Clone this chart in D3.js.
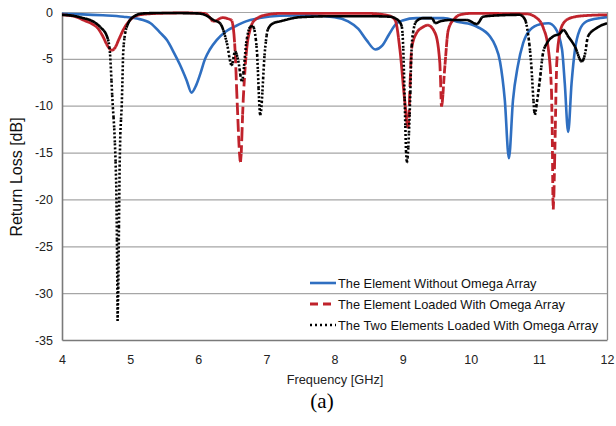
<!DOCTYPE html>
<html>
<head>
<meta charset="utf-8">
<script src="https://cdn.jsdelivr.net/npm/d3@7"></script>
<style>
  html, body { margin: 0; padding: 0; background: #fff; }
  svg { display: block; }
</style>
</head>
<body>
<svg id="chart" width="616" height="426"></svg>
<script>
// ---------------- data ----------------
const xTicks = [4, 5, 6, 7, 8, 9, 10, 11, 12];
const yTicks = [0, -5, -10, -15, -20, -25, -30, -35];

const seriesNames = [
  "The Element Without Omega Array",
  "The Element Loaded With Omega Array",
  "The Two Elements Loaded With Omega Array"
];

const freqBlue = [4.0, 4.3, 4.6, 4.9, 5.1, 5.3, 5.44, 5.54, 5.64, 5.73, 5.83, 5.9, 5.97, 6.03, 6.1, 6.17, 6.27, 6.4, 6.55, 6.7, 6.9, 7.2, 7.6, 8.0, 8.2, 8.35, 8.47, 8.6, 8.7, 8.8, 8.9, 9.0, 9.2, 9.6, 9.84, 10.0, 10.1, 10.28, 10.36, 10.43, 10.5, 10.56, 10.62, 10.69, 10.77, 10.87, 11.02, 11.14, 11.24, 11.34, 11.38, 11.43, 11.48, 11.53, 11.6, 11.7, 11.9, 12.0];
const lossBlue = [-0.2, -0.25, -0.35, -0.5, -0.7, -1.2, -2.2, -3.0, -4.3, -5.6, -7.3, -8.6, -7.8, -6.6, -5.0, -4.0, -3.0, -2.1, -1.5, -1.0, -0.65, -0.4, -0.35, -0.55, -1.0, -1.8, -3.0, -4.0, -3.6, -2.4, -1.3, -0.9, -0.65, -0.65, -1.1, -1.3, -1.6, -2.6, -3.6, -5.3, -9.4, -15.6, -9.4, -5.8, -3.3, -1.9, -1.3, -1.2, -1.7, -4.0, -7.6, -12.8, -7.6, -4.0, -1.9, -1.0, -0.65, -0.55];

const freqRed = [4.0, 4.2, 4.31, 4.45, 4.51, 4.6, 4.66, 4.73, 4.78, 4.83, 4.9, 5.0, 5.14, 5.4, 5.8, 6.1, 6.17, 6.22, 6.27, 6.35, 6.43, 6.49, 6.54, 6.57, 6.62, 6.66, 6.71, 6.76, 6.83, 7.0, 7.2, 8.5, 8.8, 8.89, 8.96, 9.03, 9.08, 9.11, 9.13, 9.2, 9.3, 9.37, 9.48, 9.55, 9.57, 9.62, 9.67, 9.77, 9.84, 10.0, 10.82, 10.97, 11.06, 11.14, 11.19, 11.21, 11.24, 11.26, 11.3, 11.36, 11.46, 11.65, 12.0];
const lossRed = [-0.3, -0.5, -0.85, -1.3, -1.6, -2.6, -3.5, -4.1, -3.8, -3.0, -1.9, -0.85, -0.3, -0.15, -0.1, -0.15, -0.6, -1.0, -0.9, -0.6, -0.7, -0.9, -4.0, -9.4, -16.0, -9.4, -4.0, -1.9, -0.85, -0.3, -0.15, -0.15, -0.4, -0.85, -4.0, -9.4, -12.4, -7.6, -4.0, -2.3, -1.6, -1.4, -2.3, -5.8, -10.1, -5.8, -1.9, -0.65, -0.3, -0.15, -0.2, -0.65, -1.6, -4.0, -9.4, -21.1, -12.9, -5.8, -2.6, -1.2, -0.65, -0.4, -0.3];

const freqBlack = [4.0, 4.2, 4.31, 4.41, 4.56, 4.66, 4.7, 4.74, 4.78, 4.8, 4.81, 4.815, 4.83, 4.84, 4.85, 4.88, 4.9, 4.95, 5.05, 5.19, 5.5, 6.0, 6.15, 6.22, 6.32, 6.42, 6.49, 6.54, 6.59, 6.64, 6.71, 6.76, 6.8, 6.86, 6.91, 6.98, 7.02, 7.1, 7.2, 7.5, 8.0, 8.5, 8.81, 8.93, 8.99, 9.01, 9.03, 9.06, 9.11, 9.13, 9.16, 9.2, 9.3, 9.43, 9.48, 9.55, 9.7, 9.94, 10.05, 10.09, 10.18, 10.43, 10.72, 10.8, 10.84, 10.89, 10.92, 10.94, 10.97, 11.02, 11.06, 11.12, 11.21, 11.31, 11.36, 11.43, 11.53, 11.63, 11.68, 11.72, 11.85, 12.0];
const lossBlack = [-0.3, -0.45, -0.65, -0.85, -1.6, -2.6, -4.0, -9.4, -14.7, -20.0, -27.2, -33.0, -27.2, -20.0, -14.7, -9.4, -4.0, -1.6, -0.5, -0.15, -0.1, -0.15, -0.5, -0.85, -1.2, -3.3, -5.7, -4.2, -5.3, -7.4, -3.0, -1.6, -1.5, -4.0, -11.0, -4.0, -1.9, -1.2, -1.0, -0.55, -0.45, -0.45, -0.5, -0.85, -1.6, -4.0, -9.4, -16.1, -9.4, -4.0, -1.9, -1.0, -0.65, -0.65, -1.2, -1.0, -0.85, -0.85, -1.2, -1.3, -0.5, -0.35, -0.3, -0.85, -2.3, -5.8, -9.4, -11.0, -9.7, -6.9, -4.4, -3.3, -2.6, -2.3, -1.9, -2.6, -3.7, -5.3, -4.4, -2.6, -1.7, -1.2];

const seriesFreq = [freqBlue, freqRed, freqBlack];
const seriesLoss = [lossBlue, lossRed, lossBlack];
const seriesColor = ["#2f6fc1", "#c0222b", "#000000"];
const seriesDash = [null, "8,4", "2,2"];
const seriesWidth = [2.6, 2.8, 2.6];

// ---------------- layout ----------------
const svg = d3.select("#chart");
const x = d3.scaleLinear().domain([4, 12]).range([62, 607]);
const y = d3.scaleLinear().domain([-35, 0]).range([340, 12]);

// gridlines
svg.append("g").selectAll("line").data(yTicks.filter(t => t !== -35)).join("line")
  .attr("x1", x(4)).attr("x2", x(12))
  .attr("y1", d => y(d) + 0.5).attr("y2", d => y(d) + 0.5)
  .attr("stroke", "#a6a6a6").attr("stroke-width", 1.2);

// right border
svg.append("line").attr("x1", x(12) + 0.5).attr("x2", x(12) + 0.5)
  .attr("y1", y(0)).attr("y2", y(-35))
  .attr("stroke", "#8c8c8c").attr("stroke-width", 1.3);

// axes
const xAxis = d3.axisBottom(x).tickValues(xTicks).tickSize(0).tickPadding(15).tickFormat(d3.format("d"));
const yAxis = d3.axisLeft(y).tickValues(yTicks).tickSize(0).tickPadding(9).tickFormat(d => d === 0 ? "0" : String(d));

const gx = svg.append("g").attr("transform", `translate(0,${y(-35)})`).call(xAxis);
const gy = svg.append("g").attr("transform", `translate(${x(4)},0)`).call(yAxis);
[gx, gy].forEach(g => {
  g.select(".domain").attr("stroke", "#7a7a7a").attr("stroke-width", 1.6);
  g.selectAll("text").attr("font-family", "Liberation Sans, Arial, sans-serif")
    .attr("font-size", 12.5).attr("fill", "#222");
});

// axis titles
svg.append("text").attr("x", 335).attr("y", 384).attr("text-anchor", "middle")
  .attr("font-family", "Liberation Sans, Arial, sans-serif").attr("font-size", 12.8)
  .attr("fill", "#222").text("Frequency [GHz]");
svg.append("text").attr("transform", "translate(22,177) rotate(-90)").attr("text-anchor", "middle")
  .attr("font-family", "Liberation Sans, Arial, sans-serif").attr("font-size", 16)
  .attr("fill", "#111").text("Return Loss [dB]");
svg.append("text").attr("x", 322).attr("y", 408).attr("text-anchor", "middle")
  .attr("font-family", "Liberation Serif, Times New Roman, serif").attr("font-size", 21)
  .attr("fill", "#000").text("(a)");

// ---------------- series (Excel-style dashes restarting at each segment) ----------------
const lineGen = d3.line().x(d => x(d[0])).y(d => y(d[1])).curve(d3.curveMonotoneX);

function segmentedPath(freqs, losses) {
  const pts = freqs.map((f, i) => [f, losses[i]]);
  const tmp = svg.append("path").attr("d", lineGen(pts)).attr("fill", "none");
  const node = tmp.node();
  const L = node.getTotalLength();
  const step = 0.68; // pixel x-step of the sampled curve
  const out = [];
  let nextX = -Infinity, prev = null, prevDy = 0;
  for (let s = 0; s <= L; s += 0.25) {
    const p = node.getPointAtLength(s);
    let dy = prev ? p.y - prev.y : 0;
    const turned = prev && prevDy !== 0 && dy !== 0 && Math.sign(dy) !== Math.sign(prevDy);
    if (p.x >= nextX || turned) {
      out.push([p.x, p.y]);
      nextX = p.x + step;
    }
    if (dy !== 0) prevDy = dy;
    prev = p;
  }
  const end = node.getPointAtLength(L);
  out.push([end.x, end.y]);
  tmp.remove();
  let d = "";
  for (let i = 0; i < out.length - 1; i++) {
    d += `M${out[i][0].toFixed(2)},${out[i][1].toFixed(2)}L${out[i + 1][0].toFixed(2)},${out[i + 1][1].toFixed(2)}`;
  }
  return d;
}

svg.append("clipPath").attr("id", "plotclip").append("rect")
  .attr("x", x(4)).attr("y", 0).attr("width", x(12) - x(4)).attr("height", y(-35));

const gSeries = svg.append("g").attr("clip-path", "url(#plotclip)");
seriesFreq.forEach((fr, i) => {
  const p = gSeries.append("path")
    .attr("fill", "none")
    .attr("stroke", seriesColor[i])
    .attr("stroke-width", seriesWidth[i])
    .attr("stroke-linecap", "butt");
  if (seriesDash[i]) {
    p.attr("d", segmentedPath(fr, seriesLoss[i])).attr("stroke-dasharray", seriesDash[i]);
  } else {
    p.attr("d", lineGen(fr.map((f, k) => [f, seriesLoss[i][k]]))).attr("stroke-linejoin", "round");
  }
});

// ---------------- legend ----------------
const legendY = [283, 304, 325];
const leg = svg.append("g");
seriesNames.forEach((name, i) => {
  leg.append("line").attr("x1", 310).attr("x2", 336)
    .attr("y1", legendY[i]).attr("y2", legendY[i])
    .attr("stroke", seriesColor[i]).attr("stroke-width", seriesWidth[i])
    .attr("stroke-dasharray", i === 1 ? "8,5" : (i === 2 ? "2,3" : null));
  leg.append("text").attr("x", 338).attr("y", legendY[i] + 4.5)
    .attr("font-family", "Liberation Sans, Arial, sans-serif").attr("font-size", 12.8)
    .attr("fill", "#111").text(name);
});
</script>
</body>
</html>
